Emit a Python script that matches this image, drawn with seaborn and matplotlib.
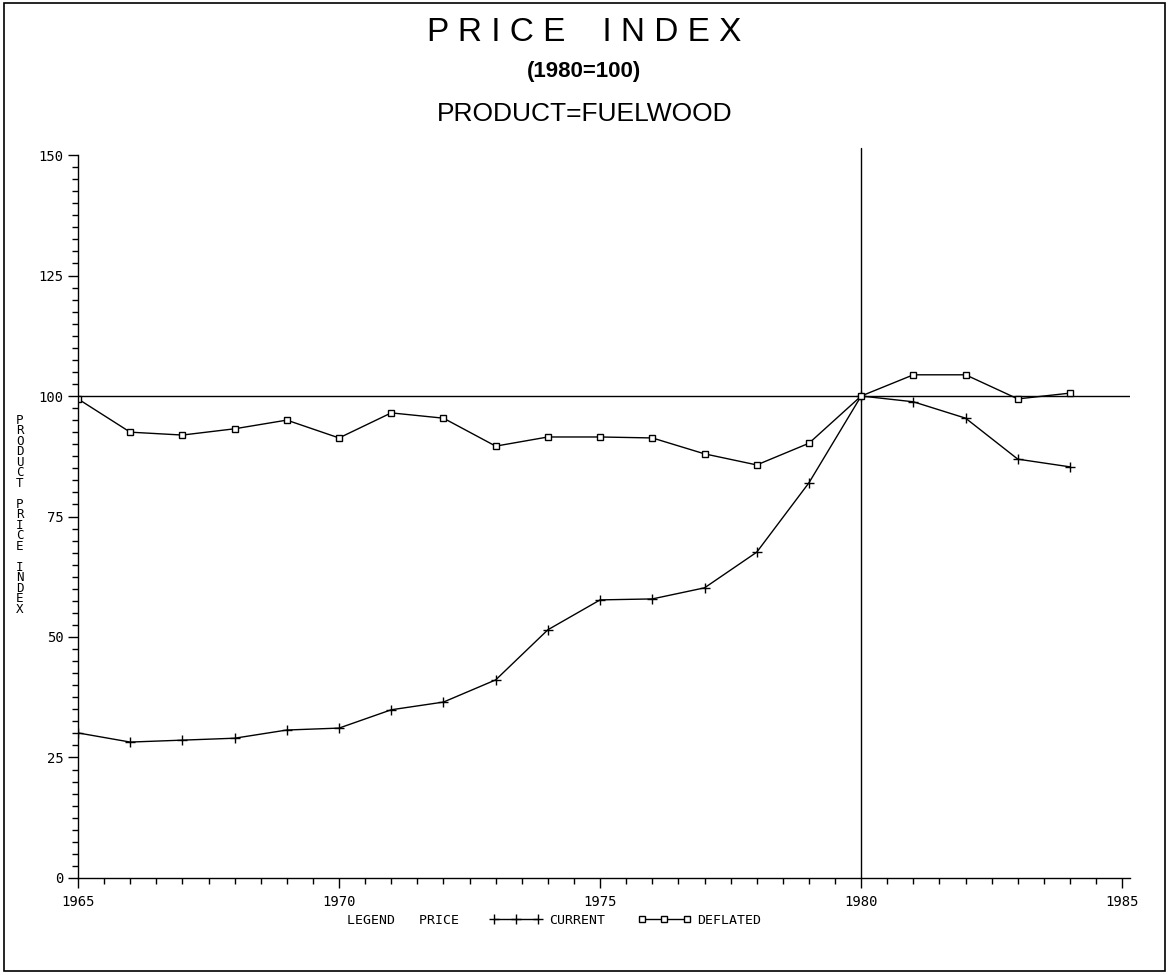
#!/usr/bin/env python3
import matplotlib
matplotlib.use('Agg')
import matplotlib.pyplot as plt
import seaborn as sns
import pandas as pd
import numpy as np
from matplotlib.patches import Rectangle
from matplotlib.lines import Line2D
from matplotlib.ticker import MultipleLocator

# data
years = list(range(1965, 1985))
current = [30.1, 28.2, 28.6, 29.0, 30.7, 31.1, 34.9, 36.5, 41.1, 51.5,
           57.7, 57.9, 60.2, 67.6, 82.0, 100.0, 98.8, 95.4, 86.9, 85.3]
deflated = [99.4, 92.5, 91.9, 93.2, 95.0, 91.3, 96.5, 95.4, 89.6, 91.5,
            91.5, 91.3, 88.0, 85.7, 90.2, 100.0, 104.4, 104.4, 99.4, 100.6]
x_ticks = [1965, 1970, 1975, 1980, 1985]
y_ticks = [0, 25, 50, 75, 100, 125, 150]

sns.set_style('ticks')
plt.rcParams['font.family'] = ['DejaVu Sans Mono']
plt.rcParams['text.color'] = 'black'
plt.rcParams['xtick.color'] = 'black'
plt.rcParams['ytick.color'] = 'black'

df = pd.DataFrame({'year': years * 2,
                   'index': current + deflated,
                   'price': ['CURRENT'] * len(years) + ['DEFLATED'] * len(years)})

fig = plt.figure(figsize=(11.69, 9.75), dpi=100)
ax = fig.add_axes([0.0667, 0.0995, 0.9, 0.7415])

sns.lineplot(data=df[df.price == 'CURRENT'], x='year', y='index', ax=ax,
             color='black', lw=1.0, marker='+', markersize=7, mew=1.0,
             mec='black', legend=False)
sns.lineplot(data=df[df.price == 'DEFLATED'], x='year', y='index', ax=ax,
             color='black', lw=1.0, marker='s', markersize=4.5, mew=1.0,
             mec='black', markerfacecolor='white', legend=False)

# reference lines
ax.axhline(100, color='black', lw=1.0, zorder=1)
ax.axvline(1980, color='black', lw=1.0, ymin=0, ymax=1.01, clip_on=False, zorder=1)

ax.set_xlim(1965, 1985.15)
ax.set_ylim(0, 150)
ax.set_xticks(x_ticks)
ax.set_yticks(y_ticks)
ax.xaxis.set_minor_locator(MultipleLocator(0.5))
ax.yaxis.set_minor_locator(MultipleLocator(2.5))
ax.tick_params(axis='both', which='major', direction='out', length=7, width=1,
               labelsize=10, color='black', labelcolor='black')
ax.tick_params(axis='both', which='minor', direction='out', length=4, width=1,
               color='black')
ax.tick_params(axis='x', pad=5)
sns.despine(ax=ax)
for s in ['left', 'bottom']:
    ax.spines[s].set_color('black')
    ax.spines[s].set_linewidth(1.0)
ax.set_xlabel('')
ax.set_ylabel('')

# stacked y label
fig.text(0.017, 0.472, '\n'.join('PRODUCT PRICE INDEX'), ha='center', va='center',
         fontsize=9, linespacing=0.75)

# titles
fig.text(0.5, 0.967, 'P R I C E    I N D E X', ha='center', va='center',
         fontsize=24, family='Liberation Sans')
fig.text(0.5, 0.927, '(1980=100)', ha='center', va='center',
         fontsize=16, family='Liberation Sans', weight='bold')
fig.text(0.5, 0.883, 'PRODUCT=FUELWOOD', ha='center', va='center',
         fontsize=19, family='Liberation Sans')

# legend
fig.text(0.345, 0.056, 'LEGEND   PRICE', ha='center', va='center', fontsize=9.5)
handles = [Line2D([], [], color='black', lw=1.0, marker='+', markersize=7),
           Line2D([], [], color='black', lw=1.0, marker='s', markersize=4,
                  markerfacecolor='white')]
fig.legend(handles, ['CURRENT', 'DEFLATED'], loc='center', ncol=2,
           bbox_to_anchor=(0.535, 0.056), frameon=False, fontsize=9.5,
           handlelength=4, columnspacing=2.5, handletextpad=0.5, numpoints=3)

# outer frame
fig.patches.append(Rectangle((0.003, 0.004), 0.994, 0.993, transform=fig.transFigure,
                             fill=False, edgecolor='black', lw=1.2))

fig.savefig('out.png', dpi=100)
